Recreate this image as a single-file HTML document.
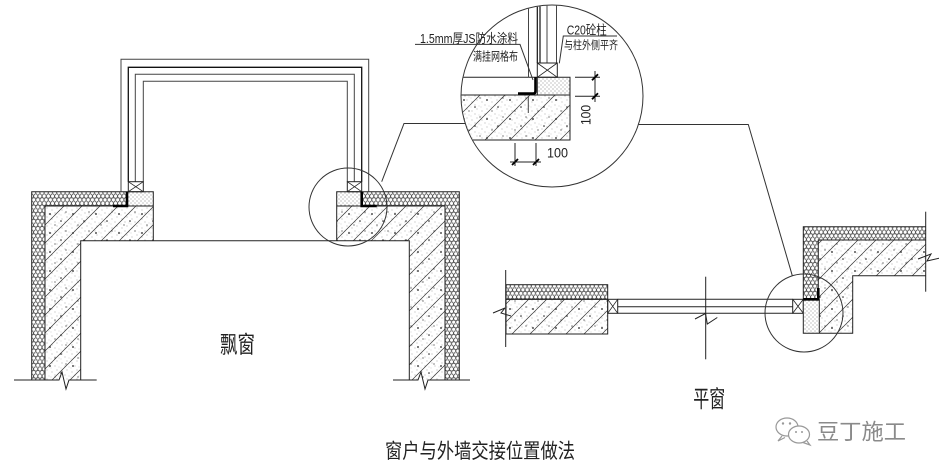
<!DOCTYPE html>
<html><head><meta charset="utf-8"><style>
html,body{margin:0;padding:0;background:#fff;}
svg{display:block;}
text{font-family:"Liberation Sans","Noto Sans CJK SC",sans-serif;fill:#222;}
</style></head><body>
<svg width="939" height="472" viewBox="0 0 939 472" xmlns="http://www.w3.org/2000/svg">
<defs>
<pattern id="hex" width="4.2" height="7.2" patternUnits="userSpaceOnUse">
<rect width="4.2" height="7.2" fill="#fff"/>
<circle cx="2.1" cy="1.8" r="1.95" fill="none" stroke="#333" stroke-width="0.55"/>
<circle cx="0" cy="5.4" r="1.95" fill="none" stroke="#333" stroke-width="0.55"/>
<circle cx="4.2" cy="5.4" r="1.95" fill="none" stroke="#333" stroke-width="0.55"/>
</pattern>
<pattern id="dt" width="10" height="9" patternUnits="userSpaceOnUse">
<circle cx="2" cy="3" r="0.45" fill="#888"/>
<circle cx="7" cy="1" r="0.45" fill="#888"/>
<circle cx="5" cy="6" r="0.45" fill="#888"/>
<circle cx="9" cy="7" r="0.4" fill="#999"/>
<circle cx="1" cy="8" r="0.4" fill="#999"/>
</pattern>
<pattern id="dt2" width="23" height="19" patternUnits="userSpaceOnUse">
<circle cx="4" cy="5" r="0.9" fill="#222"/>
<circle cx="15" cy="12" r="0.8" fill="#222"/>
<circle cx="20" cy="3" r="0.6" fill="#333"/>
<circle cx="9" cy="16" r="0.6" fill="#333"/>
</pattern>
<pattern id="pd" width="4" height="4" patternUnits="userSpaceOnUse">
<circle cx="1" cy="1" r="0.55" fill="#666"/>
<circle cx="3" cy="3" r="0.55" fill="#777"/>
</pattern>
<pattern id="h18" width="18" height="18" patternUnits="userSpaceOnUse">
<path d="M-1,1 L1,-1 M0,18 L18,0 M17,19 L19,17" stroke="#333" stroke-width="0.7"/>
</pattern>
<pattern id="h24" width="25" height="25" patternUnits="userSpaceOnUse">
<path d="M-1,1 L1,-1 M0,25 L25,0 M24,26 L26,24" stroke="#333" stroke-width="0.7"/>
</pattern>
<clipPath id="cc"><circle cx="552" cy="96" r="90.5"/></clipPath>
</defs>

<!-- ============ BAY WINDOW ============ -->
<g stroke="#222" stroke-width="1" fill="none">
<!-- left wall -->
<path d="M31.7,191.7 H128 V206 H45 V380 H31.7 Z" fill="url(#hex)" stroke="none"/>
<rect x="128" y="191.7" width="25.3" height="14.3" fill="#fff" stroke="none"/>
<rect x="128" y="191.7" width="25.3" height="14.3" fill="url(#pd)" stroke="none"/>
<path d="M45,206 H153.3 V240.7 H80.7 V380 H45 Z" fill="#fff" stroke="none"/>
<path d="M45,206 H153.3 V240.7 H80.7 V380 H45 Z" fill="url(#dt)" stroke="none"/>
<path d="M45,206 H153.3 V240.7 H80.7 V380 H45 Z" fill="url(#dt2)" stroke="none"/>
<path d="M45,206 H153.3 V240.7 H80.7 V380 H45 Z" fill="url(#h18)" stroke="none"/>
<path d="M31.7,380 V191.7 H153.3 V240.7"/>
<path d="M45,380 V206 H153.3"/>
<!-- right wall -->
<path d="M361.7,191.7 H459.3 V380 H445 V206 H361.7 Z" fill="url(#hex)" stroke="none"/>
<rect x="336.7" y="191.7" width="25" height="14.3" fill="#fff" stroke="none"/>
<rect x="336.7" y="191.7" width="25" height="14.3" fill="url(#pd)" stroke="none"/>
<path d="M336.7,206 H445 V380 H409.3 V240.7 H336.7 Z" fill="#fff" stroke="none"/>
<path d="M336.7,206 H445 V380 H409.3 V240.7 H336.7 Z" fill="url(#dt)" stroke="none"/>
<path d="M336.7,206 H445 V380 H409.3 V240.7 H336.7 Z" fill="url(#dt2)" stroke="none"/>
<path d="M336.7,206 H445 V380 H409.3 V240.7 H336.7 Z" fill="url(#h18)" stroke="none"/>
<path d="M459.3,380 V191.7 H336.7 V240.7"/>
<path d="M445,380 V206 H336.7"/>
<!-- opening -->
<path d="M80.7,380 V240.7 H409.3 V380"/>
<!-- break lines -->
<path d="M14,380 H59 L62,372 L66,389 L69,380 H96.7"/>
<path d="M393,380 H418 L421,372 L425,389 L428,380 H470"/>
<!-- window frame -->
<path d="M121,191.7 V59.3 H368.7 V191.7" stroke="#444"/>
<path d="M128.3,181.7 V67.3 H361.7 V181.7" stroke="#111" stroke-width="1.3"/>
<path d="M135.3,181.7 V74.3 H354.3 V181.7" stroke="#444"/>
<path d="M143.3,181.7 V81.3 H347.3 V181.7" stroke="#444"/>
<rect x="128.3" y="181.7" width="15" height="10"/>
<path d="M128.3,181.7 L143.3,191.7 M143.3,181.7 L128.3,191.7" stroke-width="0.8"/>
<rect x="347.3" y="181.7" width="14.4" height="10"/>
<path d="M347.3,181.7 L361.7,191.7 M361.7,181.7 L347.3,191.7" stroke-width="0.8"/>
<!-- thick L waterproof -->
<path d="M113,206 H127 V191.7" stroke="#000" stroke-width="2.6"/>
<path d="M361.7,191.7 V206 H376.7" stroke="#000" stroke-width="2.6"/>
<!-- small circle + leader -->
<circle cx="348" cy="207" r="39" stroke="#333"/>
<path d="M381.7,181.7 L404,123.5 H465" stroke="#333"/>
</g>

<!-- ============ DETAIL CIRCLE ============ -->
<g clip-path="url(#cc)" stroke="#222" stroke-width="1" fill="none">
<rect x="440" y="95" width="130" height="45" fill="#fff" stroke="none"/>
<rect x="440" y="95" width="130" height="45" fill="url(#dt)" stroke="none"/>
<rect x="440" y="95" width="130" height="45" fill="url(#dt2)" stroke="none"/>
<rect x="440" y="95" width="130" height="45" fill="url(#h24)" stroke="none"/>
<rect x="537.3" y="77.3" width="32.7" height="17.7" fill="url(#pd)" stroke="none"/>
<path d="M440,77.3 H570 V140 H440"/>
<path d="M440,95 H570"/>
<path d="M537.3,77.3 V95"/>
<path d="M528.5,0 V77.3" stroke="#444"/>
<path d="M537.3,0 V63" stroke="#111" stroke-width="1.2"/>
<path d="M540,0 V63" stroke="#111" stroke-width="1.2"/>
<path d="M547,0 V63" stroke="#444"/>
<path d="M556.5,0 V63" stroke="#444"/>
<rect x="537.3" y="63" width="20" height="14.3"/>
<path d="M537.3,63 L557.3,77.3 M557.3,63 L537.3,77.3" stroke-width="0.8"/>
<path d="M528.3,96 V113" stroke="#444"/>
<path d="M518,93.5 H533.5 Q535.5,93.5 535.5,91 V77.3" stroke="#000" stroke-width="2.6"/>
</g>
<g stroke="#222" stroke-width="1" fill="none">
<circle cx="552" cy="96" r="91" stroke="#333"/>
<!-- leaders -->
<path d="M415,44.4 H520 L533,80" stroke="#333"/>
<path d="M617,36 H563.3 L559.3,63.3" stroke="#333"/>
<!-- dims -->
<path d="M575,77.3 H600 M575,96.3 H600 M595,71 V102"/>
<path d="M592,80.3 L598,74.3 M592,99.3 L598,93.3" stroke="#000" stroke-width="1.8"/>
<path d="M515,143 V166 M536,143 V166 M510,162 H541"/>
<path d="M512,165 L518,159 M533,165 L539,159" stroke="#000" stroke-width="1.8"/>
<!-- right leader -->
<path d="M638.6,124.5 H748.3 L792.3,275.7" stroke="#333"/>
</g>
<text x="420" y="43" font-size="13" textLength="98" lengthAdjust="spacingAndGlyphs">1.5mm厚JS防水涂料</text>
<text x="473" y="60.5" font-size="12" textLength="45" lengthAdjust="spacingAndGlyphs">满挂网格布</text>
<text x="566.7" y="34.5" font-size="13" textLength="40" lengthAdjust="spacingAndGlyphs">C20砼柱</text>
<text x="564" y="49" font-size="11.5" textLength="54" lengthAdjust="spacingAndGlyphs">与柱外侧平齐</text>
<text x="547" y="157.5" font-size="14" textLength="21" lengthAdjust="spacingAndGlyphs">100</text>
<text transform="translate(590.5,125) rotate(-90)" x="0" y="0" font-size="14" textLength="20" lengthAdjust="spacingAndGlyphs">100</text>

<!-- ============ FLAT WINDOW ============ -->
<g stroke="#222" stroke-width="1" fill="none">
<rect x="506" y="284.7" width="101.7" height="14.6" fill="url(#hex)" stroke="none"/>
<rect x="506" y="299.3" width="101.7" height="34.7" fill="#fff" stroke="none"/>
<rect x="506" y="299.3" width="101.7" height="34.7" fill="url(#dt)" stroke="none"/>
<rect x="506" y="299.3" width="101.7" height="34.7" fill="url(#dt2)" stroke="none"/>
<rect x="506" y="299.3" width="101.7" height="34.7" fill="url(#h18)" stroke="none"/>
<rect x="506" y="284.7" width="101.7" height="14.6"/>
<rect x="506" y="299.3" width="101.7" height="34.7"/>
<path d="M505.7,270 V347"/>
<path d="M493,313 L505,308 L501,313 L511,316"/>
<!-- glass -->
<path d="M617.7,299.3 H792.7 M617.7,306.7 H792.7 M617.7,313.3 H792.7"/>
<rect x="607.7" y="299.3" width="10" height="14"/>
<path d="M607.7,299.3 L617.7,313.3 M617.7,299.3 L607.7,313.3" stroke-width="0.8"/>
<rect x="792.7" y="299.3" width="10.6" height="14"/>
<path d="M792.7,299.3 L803.3,313.3 M803.3,299.3 L792.7,313.3" stroke-width="0.8"/>
<path d="M705.7,276.7 V359.3"/>
<path d="M695,319 L705.5,313.5 L707.3,324 L717.3,317.5"/>
<!-- right wall -->
<path d="M803.3,226.7 H925.7 V240 H818.3 V299.3 H803.3 Z" fill="url(#hex)" stroke="none"/>
<path d="M818.3,240 H925.7 V275.7 H852.7 V333.3 H819.3 V299.3 H818.3 Z" fill="#fff" stroke="none"/>
<path d="M818.3,240 H925.7 V275.7 H852.7 V333.3 H819.3 V299.3 H818.3 Z" fill="url(#dt)" stroke="none"/>
<path d="M818.3,240 H925.7 V275.7 H852.7 V333.3 H819.3 V299.3 H818.3 Z" fill="url(#dt2)" stroke="none"/>
<path d="M818.3,240 H925.7 V275.7 H852.7 V333.3 H819.3 V299.3 H818.3 Z" fill="url(#h18)" stroke="none"/>
<rect x="803.3" y="299.3" width="16" height="34" fill="#fff" stroke="none"/>
<rect x="803.3" y="299.3" width="16" height="34" fill="url(#pd)" stroke="none"/>
<path d="M803.3,299.3 V226.7 H925.7"/>
<path d="M818.3,299.3 V240 H925.7"/>
<path d="M925.7,275.7 H852.7 V333.3 H803.3 V299.3"/>
<path d="M819.3,299.3 V333.3"/>
<path d="M925.7,211.7 V291.7"/>
<path d="M918,259 L931,254 L927,261 L940,258"/>
<path d="M803.3,299.3 H818.3 V288" stroke="#000" stroke-width="2.6"/>
<circle cx="804" cy="313" r="39" stroke="#333"/>
</g>

<!-- ============ LABELS ============ -->
<text transform="translate(220,352.7) scale(1,1.3)" x="0" y="0" font-size="18" textLength="35" lengthAdjust="spacingAndGlyphs" fill="#333">飘窗</text>
<text transform="translate(693.3,407) scale(1,1.3)" x="0" y="0" font-size="18" textLength="32" lengthAdjust="spacingAndGlyphs" fill="#333">平窗</text>
<text transform="translate(385,458) scale(1,1.2)" x="0" y="0" font-size="17" textLength="190" lengthAdjust="spacingAndGlyphs" fill="#333">窗户与外墙交接位置做法</text>

<!-- watermark -->
<g fill="#fff" stroke="#999" stroke-width="1.2">
<path d="M782,436 L778,441 L785,437.5"/>
<ellipse cx="787" cy="427" rx="11" ry="9"/>
<path d="M807,441 L810,445 L803,442.5"/>
<ellipse cx="799" cy="434.5" rx="10.5" ry="8.5"/>
</g>
<g fill="#999">
<circle cx="783" cy="423.5" r="1.2"/><circle cx="790" cy="423.5" r="1.2"/>
<circle cx="796" cy="432" r="1"/><circle cx="802" cy="432" r="1"/>
</g>
<text x="817" y="439.5" font-size="22" textLength="89" lengthAdjust="spacingAndGlyphs" fill="#8a8a8a" style="fill:#8a8a8a">豆丁施工</text>
</svg>
</body></html>
